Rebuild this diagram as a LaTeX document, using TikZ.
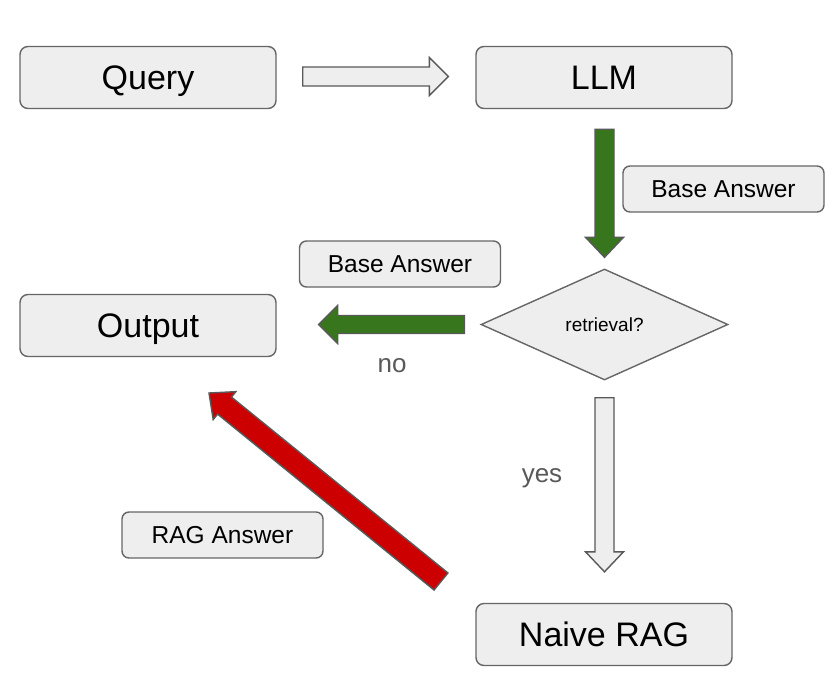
\documentclass[tikz,border=0pt]{standalone}
\usepackage{fontspec}
\setmainfont{Liberation Sans}
\usetikzlibrary{calc,shapes.geometric}
\definecolor{boxfill}{HTML}{EEEEEE}
\definecolor{boxline}{HTML}{666666}
\definecolor{arrline}{HTML}{595959}
\definecolor{agreen}{HTML}{38761D}
\definecolor{ared}{HTML}{CC0000}
\definecolor{lblgray}{HTML}{595959}
\newcommand\blockarrow[6]{%
  \path coordinate (bac) at ($(#3)!#6!(#2)$);
  \draw[#1] ($(#2)!#4!90:(#3)$) -- ($(bac)!#4!90:(#3)$) -- ($(bac)!#5!90:(#3)$) -- (#3)
    -- ($(bac)!#5!-90:(#3)$) -- ($(bac)!#4!-90:(#3)$) -- ($(#2)!#4!-90:(#3)$) -- cycle;}
\begin{document}
\begin{tikzpicture}[x=1pt,y=-1pt,
  bigbox/.style={draw=boxline,fill=boxfill,line width=1.4pt,rounded corners=8pt,
    text height=24.3pt,text depth=0pt,
    minimum width=256pt,minimum height=62pt,inner sep=0pt,font=\fontsize{34}{40}\selectfont},
  smallbox/.style={draw=boxline,fill=boxfill,line width=1.4pt,rounded corners=7pt,
    text height=17.5pt,text depth=0pt,
    minimum width=201pt,minimum height=46pt,inner sep=0pt,font=\fontsize{24.5}{29}\selectfont},
  decision/.style={draw=boxline,fill=boxfill,line width=1.4pt,diamond,aspect=2.2,
    text height=13.6pt,text depth=0pt,
    minimum width=247pt,minimum height=111pt,inner sep=0pt,font=\fontsize{19}{23}\selectfont},
  lbl/.style={text=lblgray,font=\fontsize{26}{30}\selectfont,inner sep=0pt,anchor=base},
  grayarrow/.style={draw=arrline,fill=boxfill,line width=1.4pt,line join=miter},
  greenarrow/.style={draw=arrline,fill=agreen,line width=1.4pt,line join=miter},
  redarrow/.style={draw=arrline,fill=ared,line width=1.4pt,line join=miter}]
\useasboundingbox (0,0) rectangle (832,688);
\fill[white] (0,0) rectangle (832,688);

\node[bigbox] (query) at (148,77.5) {Query};
\node[bigbox] (llm) at (604,77.5) {LLM};
\node[bigbox] (output) at (148,325.5) {Output};
\node[bigbox] (naive) at (604,634.5) {Naive RAG};
\node[decision] (retr) at (604.5,324.5) {retrieval?};
\node[smallbox] (base1) at (723.5,189) {Base Answer};
\node[smallbox] (base2) at (400,264) {Base Answer};
\node[smallbox] (rag) at (222.5,535) {RAG Answer};
\node[lbl] (no) at (392,372) {no};
\node[lbl] (yes) at (542,482) {yes};

% arrow end points
\coordinate (a1s) at ($(query.east)+(26,-1)$);
\coordinate (a1e) at ($(llm.west)+(-27,-1)$);
\coordinate (a2s) at ($(llm.south)+(0.5,20)$);
\coordinate (a2e) at ($(retr.north)+(0,-11)$);
\coordinate (a3s) at ($(retr.west)+(-16,0)$);
\coordinate (a3e) at ($(output.east)+(42,-1)$);
\coordinate (a4s) at ($(retr.south)+(0,17)$);
\coordinate (a4e) at ($(naive.north)+(0.5,-31)$);
\coordinate (a5s) at (441,581.5);
\coordinate (a5e) at (209,393);

\blockarrow{grayarrow}{a1s}{a1e}{9.5pt}{19pt}{19pt}
\blockarrow{greenarrow}{a2s}{a2e}{9.5pt}{19pt}{20pt}
\blockarrow{greenarrow}{a3s}{a3e}{9pt}{19pt}{19pt}
\blockarrow{grayarrow}{a4s}{a4e}{9.5pt}{19pt}{20pt}
\blockarrow{redarrow}{a5s}{a5e}{11pt}{18pt}{20pt}
\end{tikzpicture}
\end{document}
